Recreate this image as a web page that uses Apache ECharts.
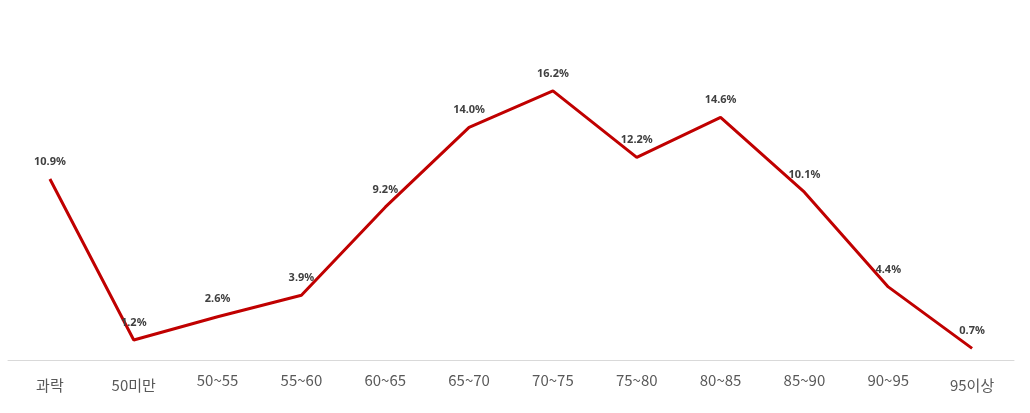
<!DOCTYPE html>
<html>
<head>
<meta charset="utf-8">
<script src="https://cdn.jsdelivr.net/npm/echarts@6/dist/echarts.min.js"></script>
<style>html,body{margin:0;padding:0;background:#fff}#c{width:1030px;height:413px}</style>
</head>
<body>
<div id="c"></div>
<script>
var categories = ['과락','50미만','50~55','55~60','60~65','65~70','70~75','75~80','80~85','85~90','90~95','95이상'];
var values = [10.9, 1.2, 2.6, 3.9, 9.2, 14.0, 16.2, 12.2, 14.6, 10.1, 4.4, 0.7];

var chart = echarts.init(document.getElementById('c'));
chart.setOption({
  animation: false,
  grid: {left: 8, right: 16, top: 61, bottom: 53},
  xAxis: {
    type: 'category',
    data: categories,
    boundaryGap: true,
    axisLine: {lineStyle: {color: '#d9d9d9', width: 1}},
    axisTick: {show: false},
    axisLabel: {
      interval: 0, margin: 13,
      formatter: function(v){ return /[가-힣]/.test(v) ? '{k|' + v + '}' : '{n|' + v + '}'; },
      rich: {
        k: {color: '#595959', fontSize: 15, padding: [5, 0, 0, 0], fontFamily: '"Noto Sans CJK KR", sans-serif'},
        n: {color: '#595959', fontSize: 15, padding: [0, 0, 0, 0], fontFamily: '"Noto Sans CJK KR", sans-serif'}
      }
    }
  },
  yAxis: {
    type: 'value', min: 0, max: 18,
    show: false,
    splitLine: {show: false}
  },
  series: [{
    type: 'line',
    data: values,
    symbol: 'circle',
    symbolSize: 2,
    showSymbol: true,
    showAllSymbol: true,
    lineStyle: {color: '#C00000', width: 3},
    itemStyle: {color: 'rgba(192,0,0,0)', borderWidth: 0},
    label: {
      show: true, position: 'top', distance: 11,
      formatter: function(p){ return p.value.toFixed(1) + '%'; },
      color: '#404040', fontSize: 11, fontWeight: 'bold',
      fontFamily: '"Noto Sans", sans-serif'
    }
  }]
});
</script>
</body>
</html>
